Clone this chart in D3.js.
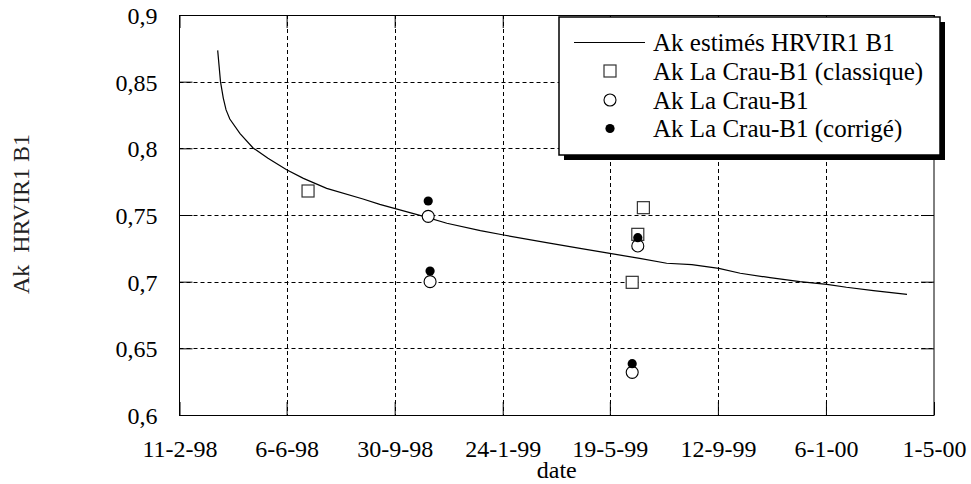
<!DOCTYPE html>
<html><head><meta charset="utf-8">
<script src="https://cdn.jsdelivr.net/npm/d3@7"></script>
<style>body{margin:0;background:#fff}svg{display:block}svg text{font-family:"Liberation Serif","Tinos","Times New Roman",Times,"DejaVu Serif","Noto Serif",serif !important;}</style>
</head><body>
<svg id="c" width="971" height="484"></svg>
<script>
// ---- data ----
const xTickDates = ["1998-02-11","1998-06-06","1998-09-30","1999-01-24","1999-05-19","1999-09-12","2000-01-06","2000-05-01"];
const xTickLabels = ["11-2-98","6-6-98","30-9-98","24-1-99","19-5-99","12-9-99","6-1-00","1-5-00"];
const yTicks = [0.6,0.65,0.7,0.75,0.8,0.85,0.9];
const yTickLabels = ["0,6","0,65","0,7","0,75","0,8","0,85","0,9"];

const lineDates = ["1998-03-24","1998-03-27","1998-03-30","1998-04-02","1998-04-06","1998-04-17","1998-05-01","1998-05-17","1998-06-06","1998-06-24","1998-07-19","1998-08-27","1998-09-14","1998-10-31","1998-11-25","1998-12-31","1999-01-25","1999-03-12","1999-04-17","1999-05-19","1999-06-20","1999-07-19","1999-08-15","1999-09-13","1999-10-06","1999-11-07","1999-12-09","2000-01-07","2000-01-28","2000-02-26","2000-04-02"];
const lineValues = [0.8735,0.85,0.8377,0.8288,0.822,0.811,0.8003,0.7925,0.784,0.7775,0.770,0.762,0.758,0.749,0.7438,0.7383,0.735,0.7293,0.725,0.7212,0.7175,0.7138,0.7128,0.710,0.7063,0.703,0.700,0.698,0.6958,0.6933,0.6905];

const squareDates = ["1998-06-29","1999-06-12","1999-06-18","1999-06-24"];
const squareValues = [0.768,0.6995,0.7355,0.7555];
const openDates = ["1998-11-05","1998-11-07","1999-06-12","1999-06-18"];
const openValues = [0.749,0.700,0.632,0.7268];
const filledDates = ["1998-11-05","1998-11-07","1999-06-12","1999-06-18"];
const filledValues = [0.7605,0.708,0.6385,0.733];

const legendLabels = ["Ak estimés HRVIR1 B1","Ak La Crau-B1 (classique)","Ak La Crau-B1","Ak La Crau-B1 (corrigé)"];
const xTitle = "date";
const yTitle = "Ak\u00a0\u00a0HRVIR1 B1";

// ---- drawing ----
const FONT = '"Liberation Serif","Tinos","Times New Roman",Times,"DejaVu Serif","Noto Serif",serif';
const parse = d3.utcParse("%Y-%m-%d");
const L = 179.5, R = 934, T = 15, B = 415;
const svg = d3.select("#c");
const x = d3.scaleUtc().domain([parse(xTickDates[0]), parse(xTickDates[xTickDates.length-1])]).range([L, R]);
const y = d3.scaleLinear().domain([0.6, 0.9]).range([B, T]);
const FS = 24;

// grid
const g = svg.append("g");
xTickDates.slice(1, -1).forEach(d => {
  const px = Math.round(x(parse(d))) + 0.5;
  g.append("line").attr("x1", px).attr("x2", px).attr("y1", T).attr("y2", B)
    .attr("stroke", "#000").attr("stroke-width", 1).attr("stroke-dasharray", "4,3");
});
yTicks.slice(1, -1).forEach(v => {
  const py = Math.round(y(v)) + 0.5;
  g.append("line").attr("x1", L).attr("x2", R).attr("y1", py).attr("y2", py)
    .attr("stroke", "#000").attr("stroke-width", 1).attr("stroke-dasharray", "4,3");
});

// axes (ticks inside on all sides)
const tickLen = 13;
const fmtMap = new Map(xTickDates.map((d, i) => [+parse(d), xTickLabels[i]]));
const ax = svg.append("g").attr("transform", `translate(0,${B})`)
  .call(d3.axisBottom(x).tickValues(xTickDates.map(parse)).tickSize(-tickLen).tickPadding(tickLen + 12)
    .tickFormat(d => fmtMap.get(+d)));
const ay = svg.append("g").attr("transform", `translate(${L},0)`)
  .call(d3.axisLeft(y).tickValues(yTicks).tickSize(-tickLen).tickPadding(22)
    .tickFormat((d, i) => yTickLabels[i]));
const axT = svg.append("g").attr("transform", `translate(0,${T})`)
  .call(d3.axisTop(x).tickValues(xTickDates.map(parse)).tickSize(-tickLen).tickFormat(""));
const ayR = svg.append("g").attr("transform", `translate(${R},0)`)
  .call(d3.axisRight(y).tickValues(yTicks).tickSize(-tickLen).tickFormat(""));
[ax, ay, axT, ayR].forEach(a => {
  a.attr("font-family", FONT);
  a.select(".domain").remove();
  a.selectAll("line").attr("stroke", "#000");
  a.selectAll("text").attr("font-size", FS).attr("fill", "#000").attr("font-family", FONT);
});
ay.selectAll("text").attr("dy", "0.35em");

// frame
svg.append("rect").attr("x", L).attr("y", T + 0.5).attr("width", R - L).attr("height", B - T)
  .attr("fill", "none").attr("stroke", "#000").attr("stroke-width", 1);

// line
const lineData = lineDates.map((d, i) => [parse(d), lineValues[i]]);
svg.append("path").datum(lineData)
  .attr("d", d3.line().x(d => x(d[0])).y(d => y(d[1])))
  .attr("fill", "none").attr("stroke", "#000").attr("stroke-width", 1.2);

// markers
const sq = 12;
svg.append("g").selectAll("rect").data(squareDates.map((d, i) => [parse(d), squareValues[i]])).join("rect")
  .attr("x", d => x(d[0]) - sq / 2).attr("y", d => y(d[1]) - sq / 2).attr("width", sq).attr("height", sq)
  .attr("fill", "#fff").attr("stroke", "#333").attr("stroke-width", 1.2);
svg.append("g").selectAll("circle").data(openDates.map((d, i) => [parse(d), openValues[i]])).join("circle")
  .attr("cx", d => x(d[0])).attr("cy", d => y(d[1])).attr("r", 6)
  .attr("fill", "#fff").attr("stroke", "#000").attr("stroke-width", 1.1);
svg.append("g").selectAll("circle").data(filledDates.map((d, i) => [parse(d), filledValues[i]])).join("circle")
  .attr("cx", d => x(d[0])).attr("cy", d => y(d[1])).attr("r", 4.6)
  .attr("fill", "#000");

// legend
const lg = svg.append("g");
const bx = 559, by = 17, bw = 381, bh = 138, sh = 5;
lg.append("rect").attr("x", bx + sh).attr("y", by + sh).attr("width", bw).attr("height", bh).attr("fill", "#000");
lg.append("rect").attr("x", bx).attr("y", by).attr("width", bw).attr("height", bh)
  .attr("fill", "#fff").attr("stroke", "#000").attr("stroke-width", 1.5);
const rowsY = [42.5, 71, 100, 128.5];
const mx = 610;
lg.append("line").attr("x1", 574).attr("x2", 645).attr("y1", rowsY[0]).attr("y2", rowsY[0]).attr("stroke", "#000").attr("stroke-width", 1.2);
lg.append("rect").attr("x", mx - 6).attr("y", rowsY[1] - 6).attr("width", 12).attr("height", 12)
  .attr("fill", "#fff").attr("stroke", "#333").attr("stroke-width", 1.2);
lg.append("circle").attr("cx", mx).attr("cy", rowsY[2]).attr("r", 6).attr("fill", "#fff").attr("stroke", "#000").attr("stroke-width", 1.1);
lg.append("circle").attr("cx", mx).attr("cy", rowsY[3]).attr("r", 4.6).attr("fill", "#000");
legendLabels.forEach((t, i) => {
  lg.append("text").attr("x", 653).attr("y", rowsY[i]).attr("dy", "0.35em")
    .attr("font-size", 25).attr("font-family", FONT).attr("fill", "#000").text(t);
});

// titles
svg.append("text").attr("x", (L + R) / 2).attr("y", 478).attr("text-anchor", "middle")
  .attr("font-size", FS).attr("font-family", FONT).attr("fill", "#000").text(xTitle);
svg.append("text").attr("transform", `translate(29,214) rotate(-90)`).attr("text-anchor", "middle")
  .attr("font-size", FS).attr("font-family", FONT).attr("fill", "#222").text(yTitle);
</script>
</body></html>
